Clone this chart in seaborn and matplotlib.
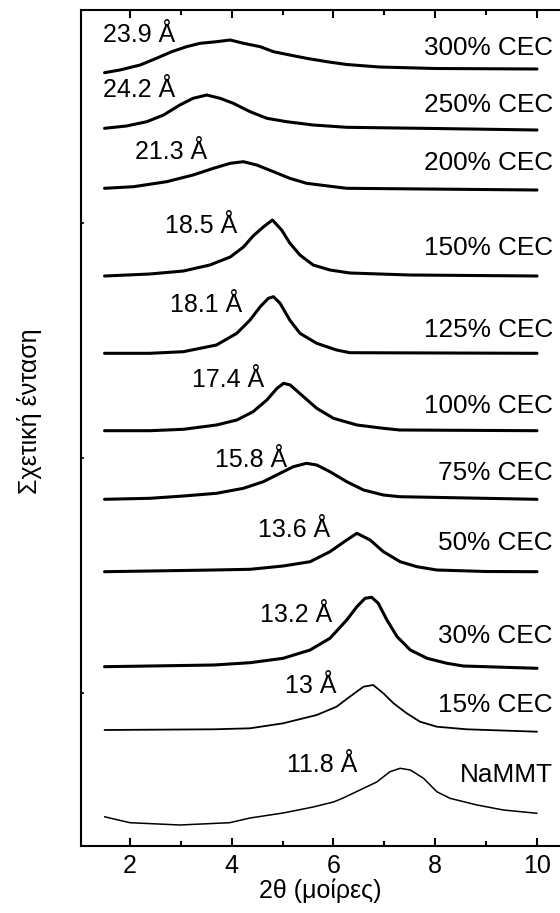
import matplotlib
matplotlib.use("Agg")
import matplotlib.pyplot as plt
from matplotlib.ticker import MultipleLocator, FixedLocator
import pandas as pd
import seaborn as sns

# Sample names (right-hand labels) and basal spacings (peak labels)
samples = ["300% CEC", "250% CEC", "200% CEC", "150% CEC", "125% CEC",
           "100% CEC", "75% CEC", "50% CEC", "30% CEC", "15% CEC", "NaMMT"]
d_spacing = ["23.9 Å", "24.2 Å", "21.3 Å", "18.5 Å", "18.1 Å",
             "17.4 Å", "15.8 Å", "13.6 Å", "13.2 Å", "13 Å", "11.8 Å"]

# Vertical offset of each pattern in the stack (arbitrary units)
offsets = [777, 716, 656, 570, 492.7, 415.3, 346.7, 274.3, 177.7, 116, 21]

# Diffraction patterns: 2θ (degrees) and relative intensity above the offset
tt_300 = [1.5, 1.8, 2.2, 2.52, 2.82, 3.11, 3.38, 3.7, 3.97, 4.23, 4.56, 4.82,
          5.14, 5.47, 5.87, 6.26, 6.9, 8.0, 10.0]
in_300 = [-3.7, -1, 4, 10.7, 17.3, 22.3, 25.7, 27.3, 29, 25.7, 22.3, 17.3,
          14, 10.7, 7.3, 4.5, 2, 0.5, 0]

tt_250 = [1.5, 1.93, 2.33, 2.66, 2.98, 3.24, 3.51, 3.77, 4.03, 4.36, 4.69, 5.08,
          5.6, 6.26, 8.0, 10.0]
in_250 = [1.7, 4, 8.3, 15, 25, 31.7, 35, 31.7, 26.7, 18.3, 11.7, 8.3,
          5, 2.7, 1.5, 0]

tt_200 = [1.5, 2.07, 2.72, 3.24, 3.64, 3.97, 4.23, 4.49, 4.82, 5.14, 5.47, 6.0, 6.26, 10.0]
in_200 = [1.7, 3.3, 8.3, 15, 21.7, 26.7, 28.3, 25, 18.3, 11.7, 6.7, 3.3, 1.7, 0]

tt_150 = [1.5, 2.39, 3.05, 3.57, 3.97, 4.23, 4.42, 4.62, 4.8, 4.98, 5.14, 5.34,
          5.6, 5.93, 6.32, 7.5, 10.0]
in_150 = [0, 2, 5, 11, 19, 29, 40, 49, 56, 46, 33, 21,
          11, 6, 3, 1, 0]

tt_125 = [1.5, 2.39, 3.05, 3.7, 4.1, 4.36, 4.56, 4.72, 4.82, 4.95, 5.14, 5.34,
          5.67, 6.06, 6.32, 10.0]
in_125 = [0, 0, 1.6, 8.3, 20, 33.3, 46.6, 55, 56.6, 50, 33.3, 20,
          10, 3.3, 0.6, 0]

tt_100 = [1.5, 2.39, 3.05, 3.7, 4.1, 4.42, 4.69, 4.89, 5.02, 5.15, 5.41, 5.67,
          6.0, 6.46, 6.98, 7.3, 10.0]
in_100 = [0, 0, 1.4, 5.7, 10.7, 19, 30.7, 42.4, 47.4, 45.7, 34, 22.4,
          12.4, 5.7, 2.4, 0.7, 0]

tt_75 = [1.5, 2.39, 3.05, 3.7, 4.23, 4.62, 4.95, 5.21, 5.47, 5.67, 5.93, 6.26,
         6.59, 6.98, 7.3, 10.0]
in_75 = [0, 1, 3.3, 6, 11, 17.6, 26, 32.6, 36, 34.3, 27.6, 17.6,
         9.3, 4.3, 2.6, 0]

tt_50 = [1.5, 3.65, 4.36, 5.01, 5.54, 5.93, 6.26, 6.46, 6.72, 6.98, 7.31, 7.64,
         8.03, 9.0, 10.0]
in_50 = [0, 1.7, 2.4, 5.7, 10, 20, 31.7, 38.4, 31.7, 20, 10, 5,
         1.7, 0.2, 0]

tt_30 = [1.5, 3.65, 4.36, 5.01, 5.54, 5.93, 6.26, 6.46, 6.62, 6.75, 6.88, 7.05,
         7.25, 7.51, 7.84, 8.23, 8.55, 10.0]
in_30 = [1.6, 3.3, 5.6, 10, 18.3, 30, 48.3, 61.6, 70, 71, 65, 48.3,
         31.6, 18.3, 10, 5, 2.3, 0]

tt_15 = [1.5, 3.65, 4.36, 5.01, 5.67, 6.06, 6.32, 6.59, 6.78, 6.98, 7.18, 7.44,
         7.7, 8.03, 8.62, 10.0]
in_15 = [0, 0.7, 1.7, 6.7, 15, 23.3, 33.3, 43.3, 45, 36.7, 26.7, 16.7,
         8.3, 3.3, 0.7, -1.7]

tt_na = [1.5, 1.6, 2.0, 2.98, 3.96, 4.36, 5.01, 5.6, 6.0, 6.19, 6.52, 6.85,
         7.11, 7.31, 7.51, 7.77, 8.03, 8.29, 8.82, 9.34, 10.0]
in_na = [8.3, 7, 2.3, 0, 2.3, 7, 12, 18, 23, 27, 35, 43,
         53.3, 56.7, 55, 46.7, 33.3, 26.7, 20, 15, 11.7]

patterns = [(tt_300, in_300), (tt_250, in_250), (tt_200, in_200), (tt_150, in_150),
            (tt_125, in_125), (tt_100, in_100), (tt_75, in_75), (tt_50, in_50),
            (tt_30, in_30), (tt_15, in_15), (tt_na, in_na)]

frames = []
for name, off, (tt, inten) in zip(samples, offsets, patterns):
    frames.append(pd.DataFrame({"two_theta": tt,
                                "intensity": [v + off for v in inten],
                                "sample": name}))
df = pd.concat(frames, ignore_index=True)

sns.set_style("ticks")
plt.rcParams["font.family"] = ["Liberation Sans", "DejaVu Sans"]
plt.rcParams["text.color"] = "black"
plt.rcParams["axes.labelcolor"] = "black"
plt.rcParams["xtick.color"] = "black"
plt.rcParams["ytick.color"] = "black"

fig = plt.figure(figsize=(5.6, 9.13), dpi=100)
ax = fig.add_axes([81 / 560, 67 / 913, 479 / 560, 836 / 913])

widths = {"15% CEC": 1.3, "NaMMT": 1.1}
for name in samples:
    sub = df[df["sample"] == name]
    sns.lineplot(data=sub, x="two_theta", y="intensity", ax=ax, color="black",
                 lw=widths.get(name, 2.2), estimator=None, sort=False)

# Peak (basal spacing) labels and sample labels
d_pos = [(1.469, 804.3), (1.469, 749.3), (2.098, 687), (2.688, 612.7), (2.786, 534.3),
         (3.219, 459.3), (3.671, 379.3), (4.516, 309.3), (4.555, 224.3), (5.047, 152.7),
         (5.086, 74.3)]
s_y = [791, 734.3, 676, 591, 509.3, 432.7, 366, 296, 202.7, 134.3, 64.3]
for lab, (x, y) in zip(d_spacing, d_pos):
    ax.text(x, y, lab, fontsize=18, ha="left", va="baseline")
for lab, y in zip(samples, s_y):
    ax.text(10.314, y, lab, fontsize=18.8, ha="right", va="baseline")

ax.set_xlim(1.037, 10.452)
ax.set_ylim(0, 836)
ax.xaxis.set_major_locator(MultipleLocator(2))
ax.xaxis.set_minor_locator(FixedLocator([3, 5, 7, 9]))
ax.yaxis.set_major_locator(FixedLocator([153, 388, 623]))
ax.tick_params(axis="x", which="major", direction="in", top=True, bottom=True,
               length=5.5, width=1.5, labelsize=18, pad=6)
ax.tick_params(axis="x", which="minor", direction="in", top=True, bottom=True,
               length=3.5, width=1.5)
ax.tick_params(axis="y", which="major", direction="in", left=True, right=False,
               length=2, width=1.2, labelleft=False)
for side in ["left", "top", "bottom"]:
    ax.spines[side].set_linewidth(1.5)
    ax.spines[side].set_color("black")
ax.spines["right"].set_visible(False)

ax.set_xlabel("2θ (μοίρες)", fontsize=18, labelpad=0)
ax.set_ylabel("Σχετική ένταση", fontsize=18)
ax.yaxis.set_label_coords(-0.081, 0.52)
ax.set_facecolor("white")
fig.patch.set_facecolor("white")

fig.savefig("out.png", dpi=100)
